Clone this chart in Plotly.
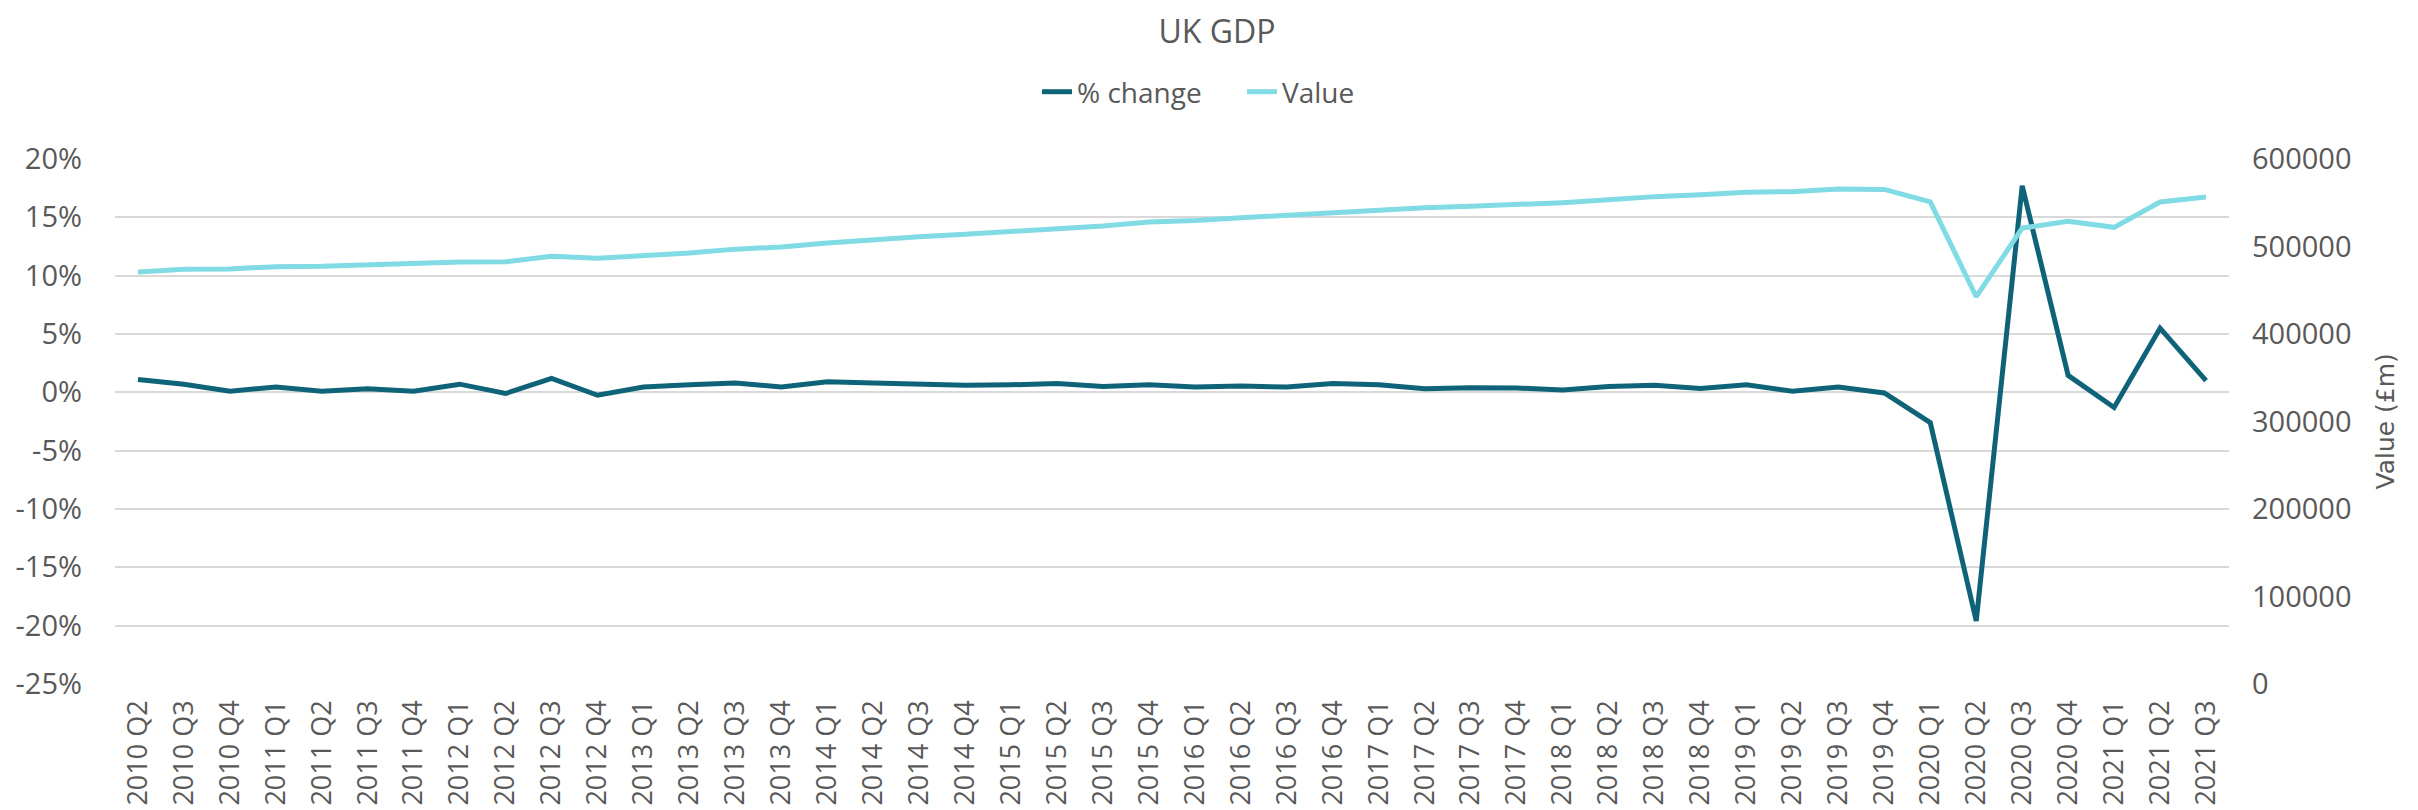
import plotly.graph_objects as go

quarters = [
    "2010 Q2", "2010 Q3", "2010 Q4",
    "2011 Q1", "2011 Q2", "2011 Q3", "2011 Q4",
    "2012 Q1", "2012 Q2", "2012 Q3", "2012 Q4",
    "2013 Q1", "2013 Q2", "2013 Q3", "2013 Q4",
    "2014 Q1", "2014 Q2", "2014 Q3", "2014 Q4",
    "2015 Q1", "2015 Q2", "2015 Q3", "2015 Q4",
    "2016 Q1", "2016 Q2", "2016 Q3", "2016 Q4",
    "2017 Q1", "2017 Q2", "2017 Q3", "2017 Q4",
    "2018 Q1", "2018 Q2", "2018 Q3", "2018 Q4",
    "2019 Q1", "2019 Q2", "2019 Q3", "2019 Q4",
    "2020 Q1", "2020 Q2", "2020 Q3", "2020 Q4",
    "2021 Q1", "2021 Q2", "2021 Q3",
]

pct_change = [
    1.1, 0.7, 0.1,
    0.45, 0.1, 0.3, 0.1,
    0.7, -0.1, 1.2, -0.25,
    0.45, 0.65, 0.8, 0.45,
    0.9, 0.8, 0.7, 0.6,
    0.65, 0.75, 0.5, 0.65,
    0.45, 0.55, 0.45, 0.75,
    0.65, 0.3, 0.4, 0.37,
    0.2, 0.5, 0.6, 0.33,
    0.65, 0.1, 0.45, -0.05,
    -2.6, -19.6, 17.7, 1.45,
    -1.3, 5.5, 1.0,
]

gdp_value = [
    470800, 474000, 474400,
    477000, 477300, 479000, 479400,
    482200, 482600, 488800, 486700,
    489600, 492500, 497000, 499400,
    503900, 508000, 511200, 514100,
    517000, 520200, 523500, 528000,
    529600, 532900, 535800, 539800,
    542700, 544300, 546000, 547600,
    550100, 553300, 557000, 559100,
    561900, 562700, 565600, 565200,
    550900, 442600, 521000, 528800,
    521900, 550900, 556600,
]

left_ticks = [-25, -20, -15, -10, -5, 0, 5, 10, 15, 20]
left_ticktext = [f"{v}%" for v in left_ticks]
right_ticks = [0, 100000, 200000, 300000, 400000, 500000, 600000]
right_ticktext = [str(v) for v in right_ticks]
right_title = "Value (£m)"

DARK = "#0f6378"
LIGHT = "#80dbe5"
TXT = "#595959"
FONT = "Open Sans"

fig = go.Figure()
fig.add_trace(go.Scatter(
    x=quarters, y=pct_change, name="% change", mode="lines",
    line=dict(color=DARK, width=5), yaxis="y",
))
fig.add_trace(go.Scatter(
    x=quarters, y=gdp_value, name="Value", mode="lines",
    line=dict(color=LIGHT, width=5), yaxis="y2",
))

fig.update_layout(
    width=2418, height=810,
    paper_bgcolor="white", plot_bgcolor="white",
    font=dict(family=FONT, size=29, color=TXT),
    margin=dict(l=107, r=197, t=151, b=134, autoexpand=False),
    title=dict(text="UK GDP", x=0.5, xanchor="center", xref="container",
               y=1 - 24 / 810, yanchor="middle", yref="container",
               font=dict(family=FONT, size=32, color=TXT)),
    showlegend=True,
    legend=dict(orientation="h", x=0.5 + 25 / 2418, xref="container",
                xanchor="center",
                y=1 + (151 - 84) / 525, yanchor="middle",
                font=dict(family=FONT, size=28, color=TXT),
                entrywidth=160, entrywidthmode="pixels",
                bgcolor="rgba(0,0,0,0)"),
    xaxis=dict(
        type="category", categoryorder="array", categoryarray=quarters,
        range=[-0.5, len(quarters) - 0.5],
        tickangle=-90, showgrid=False, showline=False, zeroline=False,
        ticks="", ticklabelstandoff=10,
        tickfont=dict(family=FONT, size=27, color=TXT),
    ),
    yaxis=dict(
        range=[-25, 20], tickvals=left_ticks, ticktext=left_ticktext,
        showgrid=True, gridcolor="#d9d9d9", gridwidth=2,
        zeroline=False, showline=False, ticks="",
        ticklabelstandoff=32,
        tickfont=dict(family=FONT, size=29, color=TXT),
    ),
    yaxis2=dict(
        range=[0, 600000], tickvals=right_ticks, ticktext=right_ticktext,
        overlaying="y", side="right", showgrid=False, zeroline=False,
        showline=False, ticks="", ticklabelstandoff=22,
        tickfont=dict(family=FONT, size=29, color=TXT),
    ),
    annotations=[dict(
        text=right_title, textangle=-90, showarrow=False,
        xref="paper", yref="paper",
        x=(2377 - 107) / 2114, y=0.5, xanchor="center", yanchor="middle",
        font=dict(family="DejaVu Sans", size=25, color=TXT),
    )],
)

fig.write_html("out.html")
